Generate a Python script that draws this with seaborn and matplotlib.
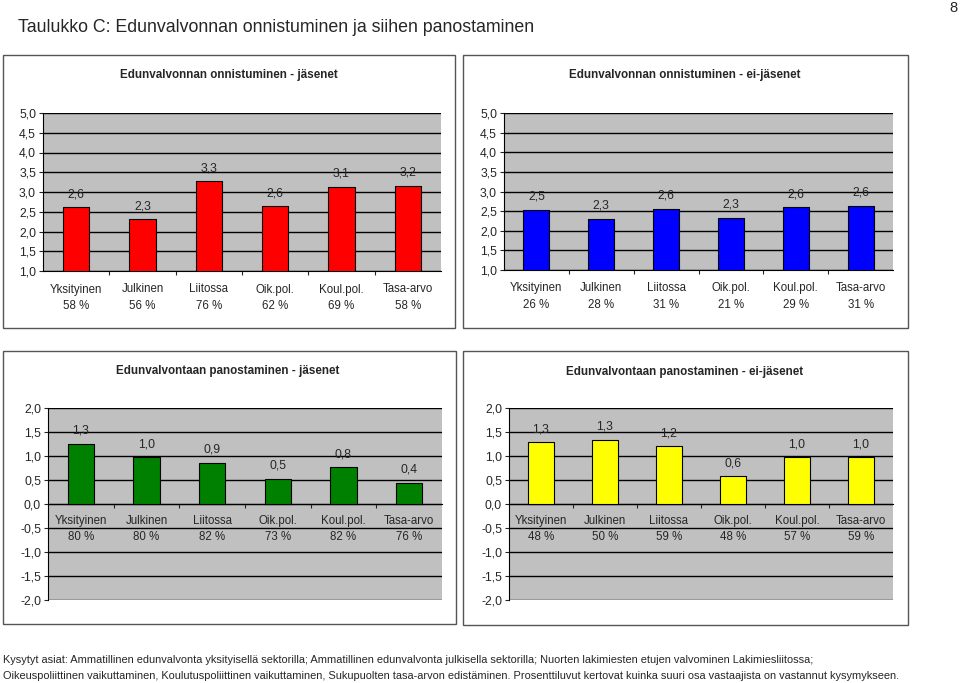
import matplotlib
matplotlib.use("Agg")
import matplotlib.pyplot as plt
import seaborn as sns
from matplotlib.patches import Rectangle
from matplotlib.ticker import FixedLocator, FuncFormatter

# Kategoriat ja arvot (luettu kuvasta)
categories = ["Yksityinen", "Julkinen", "Liitossa", "Oik.pol.", "Koul.pol.", "Tasa-arvo"]

success_members = [2.61, 2.31, 3.27, 2.64, 3.13, 3.16]
success_members_pct = [58, 56, 76, 62, 69, 58]

success_nonmembers = [2.54, 2.31, 2.56, 2.33, 2.60, 2.64]
success_nonmembers_pct = [26, 28, 31, 21, 29, 31]

effort_members = [1.26, 0.98, 0.86, 0.53, 0.77, 0.44]
effort_members_pct = [80, 80, 82, 73, 82, 76]

effort_nonmembers = [1.29, 1.34, 1.20, 0.58, 0.98, 0.98]
effort_nonmembers_pct = [48, 50, 59, 48, 57, 59]

W, H = 960, 683

sns.set_style("white")
plt.rcParams["font.family"] = ["Liberation Sans", "DejaVu Sans"]

fig = plt.figure(figsize=(W / 100, H / 100), dpi=100)


def px_rect(x0, y0, x1, y1):
    """Pikseleinä annettu alue -> kuvan suhteelliset koordinaatit."""
    return [x0 / W, 1 - y1 / H, (x1 - x0) / W, (y1 - y0) / H]


def frame(x0, y0, x1, y1):
    fig.patches.append(Rectangle((x0 / W, 1 - y1 / H), (x1 - x0) / W, (y1 - y0) / H,
                                 transform=fig.transFigure, facecolor="white",
                                 edgecolor="#555555", linewidth=1.0, zorder=-1))


comma = FuncFormatter(lambda v, _: f"{v:.1f}".replace(".", ","))


def draw_chart(rect, values, pcts, color, ylim, ystep, title, title_xy, zero_axis):
    ax = fig.add_axes(px_rect(*rect))
    ax.set_facecolor("#C0C0C0")
    sns.barplot(x=categories, y=values, color=color, saturation=1, width=0.4,
                edgecolor="black", linewidth=0.8, ax=ax, zorder=3)
    ax.set_ylim(*ylim)
    ax.set_xlim(-0.5, len(categories) - 0.5)
    ticks = [ylim[0] + ystep * i for i in range(int(round((ylim[1] - ylim[0]) / ystep)) + 1)]
    ax.yaxis.set_major_locator(FixedLocator(ticks))
    ax.yaxis.set_major_formatter(comma)
    ax.yaxis.grid(True, color="black", linewidth=1.0, zorder=1)
    ax.set_axisbelow(True)
    for s in ["top", "right"]:
        ax.spines[s].set_visible(False)
    ax.spines["left"].set_color("black")
    ax.spines["bottom"].set_color("black")
    ax.spines["left"].set_linewidth(0.8)
    ax.spines["bottom"].set_linewidth(0.8)
    if zero_axis:
        ax.spines["bottom"].set_position(("data", 0))
    ax.tick_params(axis="y", direction="out", length=3, width=0.8, labelsize=8.8,
                   left=True, pad=2)
    labels = [f"{c}\n{p} %" for c, p in zip(categories, pcts)]
    ax.set_xticks(range(len(categories)))
    ax.set_xticklabels(labels, fontsize=8.3, linespacing=1.45)
    ax.tick_params(axis="x", which="major", length=0, pad=9 if not zero_axis else 8)
    ax.set_xticks([i + 0.5 for i in range(len(categories) - 1)], minor=True)
    ax.tick_params(axis="x", which="minor", direction="out", length=3, width=0.8,
                   bottom=True)
    ax.set_xlabel("")
    ax.set_ylabel("")
    for i, v in enumerate(values):
        ax.annotate(f"{v:.1f}".replace(".", ","), (i, v), xytext=(0, 5),
                    textcoords="offset points", ha="center", va="bottom",
                    fontsize=8.8, zorder=4)
    fig.text(title_xy[0] / W, 1 - title_xy[1] / H, title, ha="center", va="center",
             fontsize=8.4, fontweight="bold")
    return ax


frame(3, 55, 455, 328)
frame(463, 55, 908, 328)
frame(3, 351, 456, 624)
frame(463, 351, 908, 625)

draw_chart((43, 113, 441, 271), success_members, success_members_pct, "#FF0000",
           (1.0, 5.0), 0.5, "Edunvalvonnan onnistuminen - jäsenet", (229, 75), False)
draw_chart((504, 113, 893, 270), success_nonmembers, success_nonmembers_pct, "#0000FF",
           (1.0, 5.0), 0.5, "Edunvalvonnan onnistuminen - ei-jäsenet", (685, 75), False)
draw_chart((48, 408, 442, 600), effort_members, effort_members_pct, "#008000",
           (-2.0, 2.0), 0.5, "Edunvalvontaan panostaminen - jäsenet", (228, 371), True)
draw_chart((509, 408, 893, 600), effort_nonmembers, effort_nonmembers_pct, "#FFFF00",
           (-2.0, 2.0), 0.5, "Edunvalvontaan panostaminen - ei-jäsenet", (685, 372), True)

fig.text(18 / W, 1 - 28 / H, "Taulukko C: Edunvalvonnan onnistuminen ja siihen panostaminen",
         ha="left", va="center", fontsize=12.8)
fig.text(953 / W, 1 - 8 / H, "8", ha="center", va="center", fontsize=10.5)

fig.text(3 / W, 1 - 660 / H,
         "Kysytyt asiat: Ammatillinen edunvalvonta yksityisellä sektorilla; Ammatillinen "
         "edunvalvonta julkisella sektorilla; Nuorten lakimiesten etujen valvominen Lakimiesliitossa;",
         ha="left", va="center", fontsize=7.9)
fig.text(3 / W, 1 - 676 / H,
         "Oikeuspoliittinen vaikuttaminen, Koulutuspoliittinen vaikuttaminen, Sukupuolten "
         "tasa-arvon edistäminen. Prosenttiluvut kertovat kuinka suuri osa vastaajista on "
         "vastannut kysymykseen.",
         ha="left", va="center", fontsize=7.9)

fig.savefig("out.png", dpi=100)
